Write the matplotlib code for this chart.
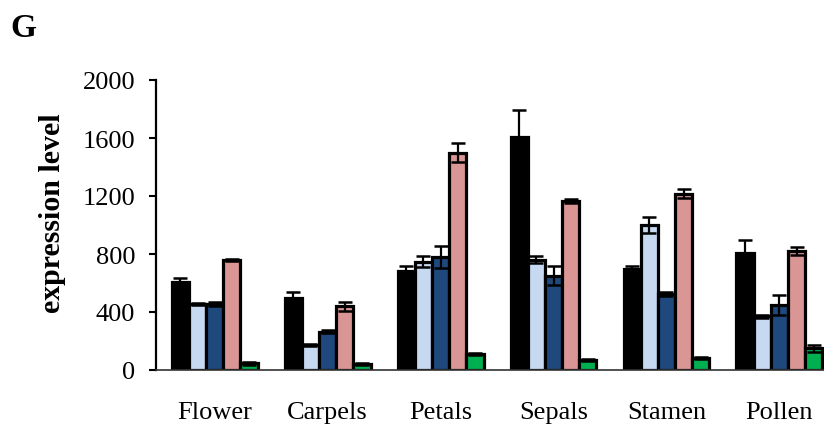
import matplotlib
matplotlib.use("Agg")
import matplotlib.pyplot as plt
import numpy as np

plt.rcParams['font.family'] = ['Liberation Serif', 'DejaVu Serif']

tissues = ["Flower", "Carpels", "Petals", "Sepals", "Stamen", "Pollen"]

series_a = [610, 500, 685, 1610, 700, 810]
series_a_err = [25, 35, 35, 185, 15, 85]
series_b = [455, 170, 745, 760, 1000, 370]
series_b_err = [10, 6, 38, 25, 55, 8]
series_c = [455, 265, 780, 650, 525, 450]
series_c_err = [15, 10, 75, 65, 12, 70]
series_d = [760, 440, 1500, 1165, 1215, 820]
series_d_err = [8, 30, 65, 12, 30, 25]
series_e = [45, 40, 110, 70, 85, 150]
series_e_err = [8, 5, 6, 5, 6, 25]

yticks = [0, 400, 800, 1200, 1600, 2000]

series = [
    (series_a, series_a_err, "#000000"),
    (series_b, series_b_err, "#C6D9F1"),
    (series_c, series_c_err, "#1F497D"),
    (series_d, series_d_err, "#D99694"),
    (series_e, series_e_err, "#00B050"),
]

fig = plt.figure(figsize=(8.24, 4.31), dpi=100)
left_px, right_px = 156, 824
ax = fig.add_axes([left_px / 824, 60 / 431, (right_px - left_px) / 824, 290 / 431])

x = np.arange(len(tissues))
width = 0.152
for i, (vals, errs, col) in enumerate(series):
    offs = (i - 2) * width
    ax.bar(x + offs, vals, width, color=col, edgecolor="black", linewidth=2.3,
           zorder=2)
    ax.errorbar(x + offs, vals, yerr=errs, fmt="none", ecolor="black",
                elinewidth=1.6, capsize=5, capthick=1.8, zorder=3)

ax.set_ylim(0, 2000)
ax.set_xlim(-0.52, 5.395)
ax.set_yticks(yticks)
ax.set_yticklabels([str(t) for t in yticks], fontsize=19)
ax.set_xticks(x)
ax.set_xticklabels(tissues, fontsize=19)
ax.tick_params(axis="x", length=0, pad=22)
ax.tick_params(axis="y", direction="out", length=5, width=1.5, pad=10)

for s in ("top", "right"):
    ax.spines[s].set_visible(False)
ax.spines["left"].set_linewidth(1.6)
ax.spines["bottom"].set_linewidth(1.2)
ax.spines["bottom"].set_color("#333333")

ax.set_ylabel("expression level", fontsize=21.5, fontweight="bold")
ax.yaxis.set_label_coords(-0.135, 0.545)

fig.text(0.012, 0.915, "G", fontsize=24, fontweight="bold")

fig.savefig("out.png", dpi=100)
